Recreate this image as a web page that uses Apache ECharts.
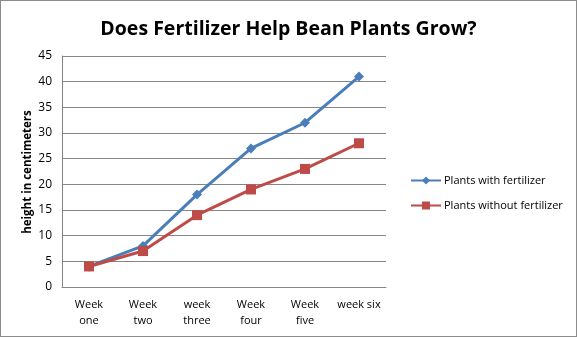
<!DOCTYPE html>
<html><head><meta charset="utf-8">
<script src="https://cdn.jsdelivr.net/npm/echarts@6/dist/echarts.min.js"></script>
<style>html,body{margin:0;padding:0;background:#fff}#c{width:577px;height:337px;box-sizing:border-box;border:1px solid #8c8c8c}</style>
</head><body><div id="c"></div>
<script>
const categories = ["Week\none", "Week\ntwo", "week\nthree", "Week\nfour", "Week\nfive", "week six"];
const withFertilizer = [4, 8, 18, 27, 32, 41];
const withoutFertilizer = [4, 7, 14, 19, 23, 28];
const yTicks = {min: 0, max: 45, interval: 5};
const yAxisTitle = 'height in centimeters';

const chart = echarts.init(document.getElementById('c'));
chart.setOption({
  animation: false,
  title: {
    text: 'Does Fertilizer Help Bean Plants Grow?',
    left: 'center', top: 13,
    textStyle: {fontFamily: 'Open Sans', fontWeight: 'bold', fontSize: 19.5, color: '#000'}
  },
  graphic: [{
    type: 'text', x: 27, y: 171, rotation: Math.PI / 2,
    style: {text: yAxisTitle, align: 'center', verticalAlign: 'middle',
      font: 'bold 11.5px "Open Sans"', fill: '#000'}
  }],
  grid: {left: 61, right: 190, top: 55, bottom: 49, containLabel: false},
  legend: {
    orient: 'vertical', left: 404, top: 169, itemGap: 14,
    itemWidth: 30, itemHeight: 10,
    textStyle: {fontFamily: 'Open Sans', fontSize: 11, color: '#000', padding: [0,0,0,-2]},
    data: ['Plants with fertilizer', 'Plants without fertilizer']
  },
  xAxis: {
    type: 'category', data: categories, boundaryGap: true,
    axisLine: {lineStyle: {color: '#868686'}},
    axisTick: {show: false},
    axisLabel: {fontFamily: 'Open Sans', fontSize: 11, color: '#000', margin: 10, lineHeight: 16, interval: 0}
  },
  yAxis: {
    type: 'value', min: yTicks.min, max: yTicks.max, interval: yTicks.interval,
    axisLine: {show: true, lineStyle: {color: '#868686'}},
    axisTick: {show: false},
    axisLabel: {fontFamily: 'Open Sans', fontSize: 12, color: '#000', margin: 10},
    splitLine: {lineStyle: {color: '#868686'}}
  },
  series: [
    {
      name: 'Plants with fertilizer', type: 'line', data: withFertilizer,
      symbol: 'diamond', symbolSize: 10,
      lineStyle: {color: '#4A7EBB', width: 3},
      itemStyle: {color: '#4A7EBB'}
    },
    {
      name: 'Plants without fertilizer', type: 'line', data: withoutFertilizer,
      symbol: 'rect', symbolSize: 10,
      lineStyle: {color: '#BE4B48', width: 3},
      itemStyle: {color: '#BE4B48'}
    }
  ]
});
</script></body></html>
